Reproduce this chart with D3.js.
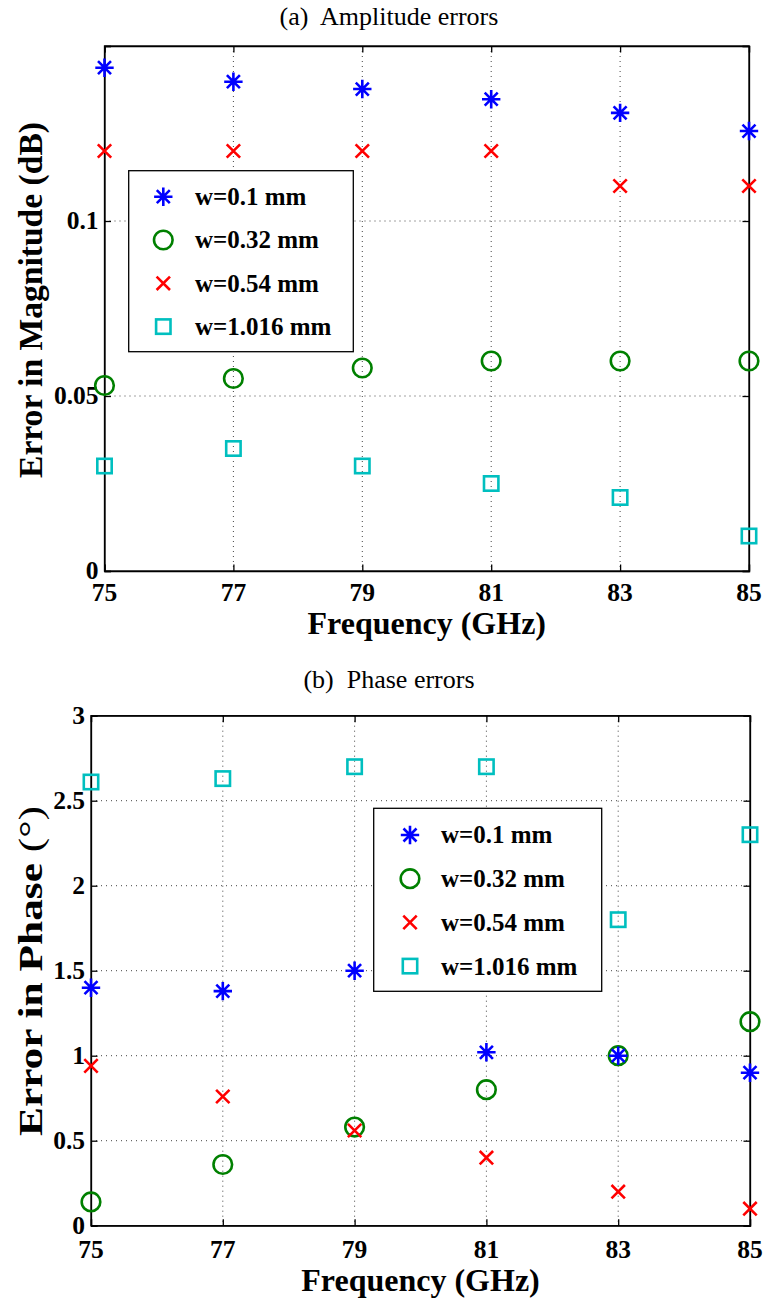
<!DOCTYPE html>
<html>
<head>
<meta charset="utf-8">
<script src="https://d3js.org/d3.v7.min.js"></script>
<style>
  body { margin: 0; background: #fff; }
  text { font-family: "Liberation Serif", "Times New Roman", serif; }
</style>
</head>
<body>
<div id="chart"></div>
<script>
// frequencies (GHz)
var freqs = [75, 77, 79, 81, 83, 85];
var seriesNames = ["w=0.1 mm", "w=0.32 mm", "w=0.54 mm", "w=1.016 mm"];

// (a) amplitude errors, dB
var ampW01   = [0.1438, 0.1398, 0.1377, 0.1348, 0.1309, 0.1257];
var ampW032  = [0.053, 0.055, 0.058, 0.060, 0.060, 0.060];
var ampW054  = [0.12, 0.12, 0.12, 0.12, 0.11, 0.11];
var ampW1016 = [0.030, 0.035, 0.030, 0.025, 0.021, 0.010];

// (b) phase errors, degrees
var phW01   = [1.40, 1.38, 1.50, 1.02, 1.00, 0.90];
var phW032  = [0.14, 0.36, 0.58, 0.80, 1.00, 1.20];
var phW054  = [0.94, 0.76, 0.56, 0.40, 0.20, 0.10];
var phW1016 = [2.61, 2.63, 2.70, 2.70, 1.80, 2.30];

// ticks
var freqTicks = [75, 77, 79, 81, 83, 85];
var ampTicks = [0, 0.05, 0.1];
var phaseTicks = [0, 0.5, 1, 1.5, 2, 2.5, 3];

var svg = d3.select("#chart").append("svg")
    .attr("width", 767)
    .attr("height", 1298);

// marker styles, same order as seriesNames
var markers = [
  {type: "star",   color: "#0000ff"},
  {type: "circle", color: "#008000"},
  {type: "x",      color: "#ff0000"},
  {type: "square", color: "#00bfbf"}
];

function drawMarker(g, type, color) {
  if (type == "circle") {
    g.append("circle").attr("r", 9.3)
      .attr("fill", "none").attr("stroke", color).attr("stroke-width", 2.6);
  } else if (type == "square") {
    g.append("rect").attr("x", -7.2).attr("y", -7.2).attr("width", 14.4).attr("height", 14.4)
      .attr("fill", "none").attr("stroke", color).attr("stroke-width", 2.6);
  } else if (type == "x") {
    g.append("path").attr("d", "M-6.7,-6.7L6.7,6.7M-6.7,6.7L6.7,-6.7")
      .attr("fill", "none").attr("stroke", color).attr("stroke-width", 2.6);
  } else {
    g.append("path").attr("d", "M-9.2,0H9.2M0,-9.2V9.2M-6.5,-6.5L6.5,6.5M-6.5,6.5L6.5,-6.5")
      .attr("fill", "none").attr("stroke", color).attr("stroke-width", 2.6);
  }
}

function panel(opt) {
  var x = d3.scaleLinear().domain([75, 85]).range([opt.left, opt.right]);
  var y = d3.scaleLinear().domain(opt.yDomain).range([opt.bottom, opt.top]);
  var g = svg.append("g");

  /*
   * grid
   */
  g.selectAll("line.vgrid")
    .data(freqTicks.slice(1, -1))
    .enter().append("line")
      .attr("x1", d => x(d)).attr("x2", d => x(d))
      .attr("y1", opt.top).attr("y2", opt.bottom)
      .attr("stroke", "#444").attr("stroke-width", 1)
      .attr("stroke-dasharray", "1,4");
  g.selectAll("line.hgrid")
    .data(opt.yTicks.filter(d => d > opt.yDomain[0] && d < opt.yDomain[1]))
    .enter().append("line")
      .attr("x1", opt.left).attr("x2", opt.right)
      .attr("y1", d => y(d)).attr("y2", d => y(d))
      .attr("stroke", "#444").attr("stroke-width", 1)
      .attr("stroke-dasharray", "1,4");

  /*
   * axes (box with inward ticks)
   */
  var tl = 6.5;
  g.append("g").attr("transform", "translate(0," + opt.bottom + ")")
    .call(d3.axisTop(x).tickValues(freqTicks).tickSize(tl).tickFormat(""));
  g.append("g").attr("transform", "translate(0," + opt.top + ")")
    .call(d3.axisBottom(x).tickValues(freqTicks).tickSize(tl).tickFormat(""));
  g.append("g").attr("transform", "translate(" + opt.left + ",0)")
    .call(d3.axisRight(y).tickValues(opt.yTicks).tickSize(tl).tickFormat(""));
  g.append("g").attr("transform", "translate(" + opt.right + ",0)")
    .call(d3.axisLeft(y).tickValues(opt.yTicks).tickSize(tl).tickFormat(""));
  g.selectAll(".domain, .tick line").attr("stroke", "#000").attr("stroke-width", 1.3);
  g.append("rect")
    .attr("x", opt.left).attr("y", opt.top)
    .attr("width", opt.right - opt.left).attr("height", opt.bottom - opt.top)
    .attr("fill", "none").attr("stroke", "#000").attr("stroke-width", 1.3);

  // tick labels
  g.selectAll("text.xt")
    .data(freqTicks)
    .enter().append("text")
      .attr("x", d => x(d)).attr("y", opt.bottom + opt.xtOff)
      .attr("text-anchor", "middle")
      .style("font-size", "25.5px").style("font-weight", "bold")
      .text(d => d);
  g.selectAll("text.yt")
    .data(opt.yLabelTicks)
    .enter().append("text")
      .attr("x", opt.left - 6).attr("y", d => y(d) + 8.3)
      .attr("text-anchor", "end")
      .style("font-size", "25.5px").style("font-weight", "bold")
      .text(d => String(d));

  // titles
  g.append("text")
    .attr("x", 389).attr("y", opt.titleY)
    .attr("text-anchor", "middle")
    .style("font-size", "26px").style("white-space", "pre")
    .text(opt.title);
  g.append("text")
    .attr("x", (opt.left + opt.right) / 2).attr("y", opt.bottom + opt.xlOff)
    .attr("text-anchor", "middle")
    .style("font-size", "32px").style("font-weight", "bold")
    .text("Frequency (GHz)");
  var yl = g.append("text")
    .attr("transform", "translate(42," + opt.yLabelMid + ") rotate(-90)")
    .attr("text-anchor", "middle")
    .attr("textLength", opt.yLabelLen)
    .attr("lengthAdjust", "spacingAndGlyphs")
    .style("font-size", "33px").style("font-weight", "bold")
    .style("white-space", "pre");
  yl.append("tspan").text(opt.yLabel);
  if (opt.yLabelUnit) {
    yl.append("tspan").style("font-weight", "normal").text(opt.yLabelUnit);
  }

  /*
   * marks
   */
  var drawOrder = [1, 3, 2, 0];
  drawOrder.forEach(function(s) {
    var vals = opt.series[s];
    vals.forEach(function(v, i) {
      var mg = g.append("g").attr("transform", "translate(" + x(freqs[i]) + "," + y(v) + ")");
      drawMarker(mg, markers[s].type, markers[s].color);
    });
  });

  /*
   * legend
   */
  var L = opt.legend;
  var lg = g.append("g").attr("transform", "translate(" + L.x + "," + L.y + ")");
  lg.append("rect")
    .attr("width", L.w).attr("height", L.h)
    .attr("fill", "#fff").attr("stroke", "#000").attr("stroke-width", 1.3);
  seriesNames.forEach(function(name, i) {
    var ry = L.row0 + i * L.step;
    var mg = lg.append("g").attr("transform", "translate(" + L.mx + "," + ry + ")");
    drawMarker(mg, markers[i].type, markers[i].color);
    lg.append("text")
      .attr("x", L.tx).attr("y", ry + 8.5)
      .style("font-size", "25px").style("font-weight", "bold")
      .text(name);
  });
}

panel({
  left: 104.5, right: 749, top: 46, bottom: 571,
  yDomain: [0, 0.15], yTicks: [0, 0.05, 0.1, 0.15], yLabelTicks: ampTicks,
  series: [ampW01, ampW032, ampW054, ampW1016],
  title: "(a)  Amplitude errors", titleY: 25,
  xtOff: 30, xlOff: 63,
  yLabel: "Error in Magnitude (dB)", yLabelMid: 300, yLabelLen: 356,
  legend: {x: 128.7, y: 170.7, w: 224.6, h: 181, row0: 26, step: 43.3, mx: 34.6, tx: 66.3}
});

panel({
  left: 91, right: 750, top: 715.7, bottom: 1225.7,
  yDomain: [0, 3], yTicks: phaseTicks, yLabelTicks: phaseTicks,
  series: [phW01, phW032, phW054, phW1016],
  title: "(b)  Phase errors", titleY: 688,
  xtOff: 32.5, xlOff: 65,
  yLabel: "Error in Phase ", yLabelUnit: "(\u00b0)", yLabelMid: 971, yLabelLen: 330,
  legend: {x: 373.7, y: 808.3, w: 228, h: 183, row0: 26.7, step: 43.7, mx: 36.3, tx: 67.3}
});
</script>
</body>
</html>
